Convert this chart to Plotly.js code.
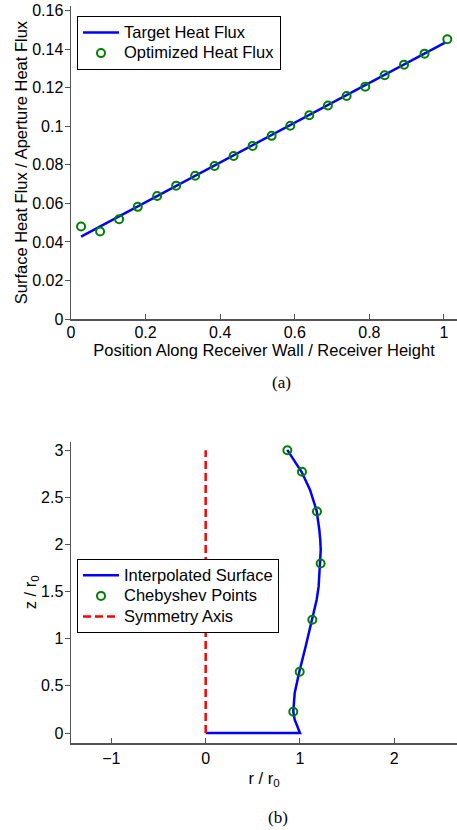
<!DOCTYPE html>
<html>
<head>
<meta charset="utf-8">
<script src="https://cdn.plot.ly/plotly-3.0.1.min.js"></script>
<style>html,body{margin:0;padding:0;background:#fff;}#chart{width:457px;height:830px;}</style>
</head>
<body>
<div id="chart"></div>
<script>
// ---- Panel (a) data ----
var targetX = [0.027, 1.003];
var targetY = [0.0428, 0.1433];
var optX = [0.027, 0.078, 0.129, 0.179, 0.231, 0.282, 0.333, 0.385, 0.436, 0.487, 0.538, 0.588, 0.639, 0.689, 0.739, 0.789, 0.841, 0.893, 0.948, 1.009];
var optY = [0.0480, 0.0454, 0.0518, 0.0582, 0.0638, 0.0692, 0.0743, 0.0794, 0.0846, 0.0898, 0.0950, 0.1002, 0.1057, 0.1107, 0.1157, 0.1205, 0.1264, 0.1319, 0.1376, 0.1451];
var aXTicks = [0, 0.2, 0.4, 0.6, 0.8, 1];
var aXLabels = ["0", "0.2", "0.4", "0.6", "0.8", "1"];
var aYTicks = [0, 0.02, 0.04, 0.06, 0.08, 0.1, 0.12, 0.14, 0.16];
var aYLabels = ["0", "0.02", "0.04", "0.06", "0.08", "0.1", "0.12", "0.14", "0.16"];

// ---- Panel (b) data ----
var surfR = [0, 1.0, 0.944, 0.929, 0.944, 0.993, 1.060, 1.124, 1.177, 1.198, 1.215, 1.220, 1.215, 1.205, 1.177, 1.106, 1.018, 0.865];
var surfZ = [0, 0, 0.141, 0.226, 0.424, 0.650, 0.918, 1.202, 1.414, 1.555, 1.795, 1.944, 2.050, 2.156, 2.357, 2.582, 2.768, 3.004];
var chebR = [0.929, 0.997, 1.131, 1.219, 1.180, 1.021, 0.866];
var chebZ = [0.226, 0.650, 1.202, 1.799, 2.350, 2.771, 3.0];
var symR = [0, 0];
var symZ = [0, 3];
var bXTicks = [-1, 0, 1, 2];
var bXLabels = ["\u22121", "0", "1", "2"];
var bYTicks = [0, 0.5, 1, 1.5, 2, 2.5, 3];
var bYLabels = ["0", "0.5", "1", "1.5", "2", "2.5", "3"];

var FONT = "Liberation Sans, Arial, Helvetica, sans-serif";
var BLUE = "#0000ff", GREEN = "#008000", RED = "#ff0000";
function big(s) { return '<span style="font-size:16.5px">' + s + '</span>'; }

var traces = [
  {x: targetX, y: targetY, type: "scatter", mode: "lines", name: big("Target Heat Flux"),
   line: {color: BLUE, width: 2.5}, xaxis: "x", yaxis: "y", legend: "legend"},
  {x: optX, y: optY, type: "scatter", mode: "markers", name: big("Optimized Heat Flux"),
   marker: {symbol: "circle-open", size: 8, color: GREEN, line: {width: 2, color: GREEN}},
   xaxis: "x", yaxis: "y", legend: "legend"},
  {x: surfR, y: surfZ, type: "scatter", mode: "lines", name: big("Interpolated Surface"),
   line: {color: BLUE, width: 2.5}, xaxis: "x2", yaxis: "y2", legend: "legend2"},
  {x: chebR, y: chebZ, type: "scatter", mode: "markers", name: big("Chebyshev Points"),
   marker: {symbol: "circle-open", size: 8, color: GREEN, line: {width: 2, color: GREEN}},
   xaxis: "x2", yaxis: "y2", legend: "legend2"},
  {x: symR, y: symZ, type: "scatter", mode: "lines", name: big("Symmetry Axis"),
   line: {color: RED, width: 2.5, dash: "8px,4px"}, xaxis: "x2", yaxis: "y2", legend: "legend2"}
];

var axisCommon = {
  showgrid: false, zeroline: false, showline: true, linecolor: "#555", linewidth: 1.5,
  tickcolor: "#555", ticklen: 5, tickwidth: 1, automargin: false,
  tickfont: {family: FONT, size: 16, color: "#000"}, mirror: false
};
function ax(extra) { return Object.assign({}, axisCommon, extra); }

var legendCommon = {xanchor: "left", yanchor: "top", bgcolor: "#fff", itemwidth: 36,
  bordercolor: "#000", borderwidth: 1, font: {family: FONT, size: 13.5, color: "#000"}};

var layout = {
  width: 457, height: 830,
  margin: {l: 71, r: 0, t: 6, b: 86.7},
  paper_bgcolor: "#fff", plot_bgcolor: "#fff",
  showlegend: true,
  font: {family: FONT, size: 16, color: "#000"},
  xaxis: ax({domain: [0, 1], range: [0, 1.035], anchor: "y", ticks: "inside",
    tickvals: aXTicks, ticktext: aXLabels, ticklabelstandoff: -2,
    title: {text: "Position Along Receiver Wall / Receiver Height", font: {family: FONT, size: 16.5}, standoff: 3}}),
  yaxis: ax({domain: [0.57507, 1], range: [0, 0.1623], anchor: "x", ticks: "outside",
    tickvals: aYTicks, ticktext: aYLabels, ticklabelstandoff: -2,
    title: {text: "Surface Heat Flux / Aperture Heat Flux", font: {family: FONT, size: 16.5}, standoff: 0}}),
  xaxis2: ax({domain: [0, 1], range: [-1.428, 2.665], anchor: "y2", ticks: "inside",
    tickvals: bXTicks, ticktext: bXLabels,
    title: {text: "r / r<sub>0</sub>", font: {family: FONT, size: 16.5}, standoff: 6}}),
  yaxis2: ax({domain: [0, 0.40906], range: [-0.106, 3.092], anchor: "x2", ticks: "outside",
    tickvals: bYTicks, ticktext: bYLabels, ticklabelstandoff: -2,
    title: {text: "z / r<sub>0</sub>", font: {family: FONT, size: 16.5}, standoff: 0}}),
  legend: Object.assign({}, legendCommon, {x: 0.01554, y: 0.98603}),
  legend2: Object.assign({}, legendCommon, {x: 0.01554, y: 0.24956}),
  annotations: [
    {text: "(a)", xref: "paper", yref: "paper", x: 0.5466, y: 0.48868, xanchor: "center", yanchor: "middle",
     showarrow: false, font: {family: "Liberation Serif, Times New Roman, serif", size: 17, color: "#000"}},
    {text: "(b)", xref: "paper", yref: "paper", x: 0.5363, y: -0.10132, xanchor: "center", yanchor: "middle",
     showarrow: false, font: {family: "Liberation Serif, Times New Roman, serif", size: 17, color: "#000"}}
  ]
};

Plotly.newPlot("chart", traces, layout, {staticPlot: true, displayModeBar: false});
</script>
</body>
</html>
